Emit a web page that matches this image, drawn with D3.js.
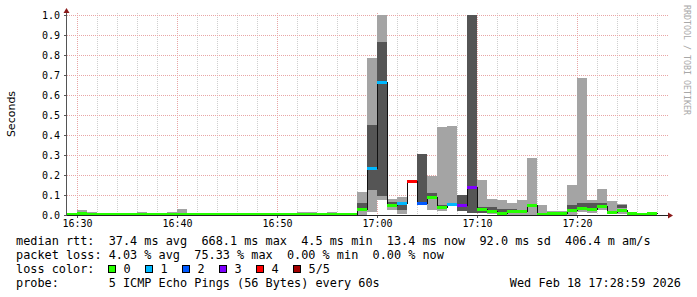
<!doctype html>
<html>
<head>
  <meta charset="utf-8">
  <title>smokeping</title>
  <script src="https://d3js.org/d3.v7.min.js"></script>
  <style>
    body { margin: 0; background: #fff; }
    text { font-family: 'DejaVu Sans Mono', monospace; fill: #000; }
    .tick text { font-size: 10px; }
    .legend { font-size: 11.85px; white-space: pre; }
  </style>
</head>
<body>
<svg id="chart" width="697" height="297"></svg>
<script>
// start minute of each 1-minute step
var minutes = ["16:29","16:30","16:31","16:32","16:33","16:34","16:35","16:36","16:37","16:38",
  "16:39","16:40","16:41","16:42","16:43","16:44","16:45","16:46","16:47","16:48",
  "16:49","16:50","16:51","16:52","16:53","16:54","16:55","16:56","16:57","16:58",
  "16:59","17:00","17:01","17:02","17:03","17:04","17:05","17:06","17:07","17:08",
  "17:09","17:10","17:11","17:12","17:13","17:14","17:15","17:16","17:17","17:18",
  "17:19","17:20","17:21","17:22","17:23","17:24","17:25","17:26","17:27"];

// median rtt (seconds)
var medians = [0.005,0.010,0.007,0.005,0.005,0.005,0.005,0.005,0.005,0.005,
  0.005,0.005,0.005,0.005,0.005,0.005,0.005,0.005,0.005,0.005,
  0.005,0.005,0.005,0.005,0.005,0.005,0.005,0.005,0.005,0.030,
  0.233,0.665,0.050,0.058,0.172,0.058,0.090,0.040,0.055,0.050,
  0.138,0.032,0.018,0.012,0.020,0.018,0.050,0.005,0.012,0.012,
  0.025,0.037,0.030,0.047,0.013,0.025,0.012,0.007,0.012];

// lost pings out of 5
var losses = [0,0,0,0,0,0,0,0,0,0, 0,0,0,0,0,0,0,0,0,0, 0,0,0,0,0,0,0,0,0,0,
  1,1,0,1,4,2,0,0,1,3, 3,0,0,0,0,0,0,0,0,0, 0,0,0,0,0,0,0,0,0];

// outer smoke (fastest / slowest ping)
var pingMin = [0.002,0.000,0.000,0.002,0.002,0.002,0.002,0.000,0.002,0.002,
  0.000,0.000,0.002,0.002,0.002,0.002,0.002,0.002,0.002,0.002,
  0.002,0.002,0.002,0.000,0.000,0.002,0.000,0.002,0.002,0.000,
  0.017,0.075,0.025,0.005,null,null,0.025,0.022,0.045,null,
  null,0.008,0.005,0.005,0.002,0.000,0.000,0.000,0.000,0.000,
  0.000,0.017,0.010,0.025,0.005,0.005,null,null,null];
var pingMax = [0.008,0.025,0.015,0.008,0.008,0.008,0.008,0.015,0.008,0.008,
  0.015,0.030,0.008,0.008,0.008,0.008,0.008,0.008,0.008,0.008,
  0.008,0.008,0.008,0.015,0.015,0.008,0.015,0.008,0.008,0.117,
  0.787,1.050,0.080,0.090,null,null,0.195,0.440,0.445,null,
  null,0.175,0.080,0.075,0.060,0.075,0.285,0.050,0.020,0.020,
  0.150,0.687,0.075,0.130,0.070,0.055,null,null,null];

// inner smoke (2nd / 4th ping)
var ping2 = [null,null,null,null,null,null,null,null,null,null,
  null,null,null,null,null,null,null,null,null,null,
  null,null,null,null,null,null,null,null,null,0.025,
  0.125,0.097,0.040,0.025,null,0.058,0.083,0.030,0.050,0.020,
  0.008,0.008,0.020,0.010,0.015,0.020,0.045,null,null,null,
  0.030,0.042,0.033,0.050,null,0.035,null,null,null];
var ping4 = [null,null,null,null,null,null,null,null,null,null,
  null,null,null,null,null,null,null,null,null,null,
  null,null,null,null,null,null,null,null,null,0.062,
  0.450,0.867,0.067,0.060,null,0.305,0.108,0.050,0.060,0.100,
  1.050,0.042,0.042,0.030,0.030,0.025,0.055,null,null,null,
  0.050,0.060,0.058,0.058,null,0.050,null,null,null];

var yTicks = [0,0.1,0.2,0.3,0.4,0.5,0.6,0.7,0.8,0.9,1.0];
var xTicks = ["16:30","16:40","16:50","17:00","17:10","17:20"];

var lossColors = ["#26ff00","#00b8ff","#0059ff","#7e00ff","#ff0000","#a10000"];
var lossLabels = ["0","1","2","3","4","5/5"];

var statLines = [
  "median rtt:  37.4 ms avg  668.1 ms max  4.5 ms min  13.4 ms now  92.0 ms sd  406.4 m am/s",
  "packet loss: 4.03 % avg  75.33 % max  0.00 % min  0.00 % now"
];
var probeLine = "probe:       5 ICMP Echo Pings (56 Bytes) every 60s";
var stampLine = "Wed Feb 18 17:28:59 2026";

// helpers
function toMin(s) { var p = s.split(":"); return +p[0] * 60 + +p[1]; }

var svg = d3.select("#chart");

var x = d3.scaleLinear().domain([toMin("16:29"), toMin("17:29") + 0.3]).range([67, 670]);
var y = d3.scaleLinear().domain([0, 1]).range([215, 15]).clamp(true);

var bars = minutes.map(function(m, i) {
  return {t: toMin(m), med: medians[i], loss: losses[i],
          lo: pingMin[i], hi: pingMax[i], q2: ping2[i], q4: ping4[i]};
});

// grid
var grid = svg.append("g").attr("shape-rendering", "crispEdges");
var vgrid = [];
for (var m = toMin("16:30"); m <= toMin("17:28"); m += 2) vgrid.push(m);
grid.selectAll("line.v").data(vgrid).enter().append("line")
  .attr("x1", d => Math.round(x(d)) + 0.5).attr("x2", d => Math.round(x(d)) + 0.5)
  .attr("y1", 13).attr("y2", 215)
  .attr("stroke", d => d % 10 == 0 ? "#e8a6a6" : "#cfcfcf")
  .attr("stroke-dasharray", "1,1");
grid.selectAll("line.h").data(yTicks.slice(1)).enter().append("line")
  .attr("x1", 67).attr("x2", 668)
  .attr("y1", d => Math.round(y(d)) + 0.5).attr("y2", d => Math.round(y(d)) + 0.5)
  .attr("stroke", "#e8a6a6")
  .attr("stroke-dasharray", "1,1");

// smoke
var smoke = svg.append("g").attr("shape-rendering", "crispEdges");
smoke.selectAll("rect.outer").data(bars.filter(d => d.hi != null)).enter().append("rect")
  .attr("x", d => x(d.t)).attr("width", d => x(d.t + 1) - x(d.t))
  .attr("y", d => y(d.hi)).attr("height", d => y(d.lo) - y(d.hi))
  .attr("fill", "#a4a4a4");
smoke.selectAll("rect.inner").data(bars.filter(d => d.q4 != null)).enter().append("rect")
  .attr("x", d => x(d.t)).attr("width", d => x(d.t + 1) - x(d.t))
  .attr("y", d => y(d.q4)).attr("height", d => y(d.q2) - y(d.q4))
  .attr("fill", "#555555");

// median step line
var pts = bars.map(d => [d.t, d.med]);
pts.push([bars[bars.length - 1].t + 1, bars[bars.length - 1].med]);
svg.append("path")
  .datum(pts)
  .attr("d", d3.line().x(d => Math.round(x(d[0])) + 0.5).y(d => Math.round(y(d[1])) + 0.5).curve(d3.curveStepAfter))
  .attr("fill", "none").attr("stroke", "#111").attr("stroke-width", 1)
  .attr("shape-rendering", "crispEdges");

// loss-coloured median
svg.append("g").attr("shape-rendering", "crispEdges")
  .selectAll("rect").data(bars).enter().append("rect")
  .attr("x", d => x(d.t)).attr("width", d => x(d.t + 1) - x(d.t))
  .attr("y", d => Math.round(y(d.med)) - 1).attr("height", 3)
  .attr("fill", d => lossColors[d.loss]);

// axes
var yAxis = svg.append("g").attr("transform", "translate(67,0)")
  .call(d3.axisLeft(y).tickValues(yTicks).tickFormat(d3.format(".1f")).tickSize(3).tickPadding(4));
var xAxis = svg.append("g").attr("transform", "translate(0,215)")
  .call(d3.axisBottom(x).tickValues(xTicks.map(toMin))
    .tickFormat(d => Math.floor(d / 60) + ":" + d3.format("02")(d % 60)).tickSize(3).tickPadding(2));
[xAxis, yAxis].forEach(function(a) {
  a.select(".domain").remove();
  a.selectAll(".tick line").attr("stroke", "#555").attr("shape-rendering", "crispEdges");
  a.selectAll(".tick text").attr("fill", "#000").style("font-family", "'DejaVu Sans Mono', monospace").style("font-size", "10px");
});

svg.append("line").attr("x1", 67).attr("x2", 668).attr("y1", 215.5).attr("y2", 215.5)
  .attr("stroke", "#222").attr("shape-rendering", "crispEdges");
svg.append("line").attr("x1", 66.5).attr("x2", 66.5).attr("y1", 216).attr("y2", 12)
  .attr("stroke", "#555").attr("shape-rendering", "crispEdges");
svg.append("path").attr("d", "M668,212.5 L673,215.5 L668,218.5 Z").attr("fill", "#8b1a1a");
svg.append("path").attr("d", "M63.5,13 L66.5,8 L69.5,13 Z").attr("fill", "#8b1a1a");

// y label
svg.append("text")
  .attr("transform", "translate(15,114) rotate(-90)")
  .attr("text-anchor", "middle")
  .style("font-family", "'DejaVu Sans', sans-serif").style("font-size", "11px")
  .text("Seconds");

// watermark
svg.append("text")
  .attr("transform", "translate(684,5) rotate(90)")
  .style("font-size", "8.3px").style("fill", "#a8a8a8")
  .text("RRDTOOL / TOBI OETIKER");

// legend
var legend = svg.append("g");
legend.selectAll("text.stat").data(statLines).enter().append("text")
  .attr("class", "legend").attr("x", 16).attr("y", (d, i) => 244.5 + i * 14.3)
  .text(d => d);
legend.append("text").attr("class", "legend").attr("x", 16).attr("y", 273).text("loss color:");
var lossX = [108.5, 145.5, 182.5, 219.5, 256.5, 293.5];
var items = legend.selectAll("g.loss").data(lossLabels).enter().append("g");
items.append("rect")
  .attr("x", (d, i) => lossX[i]).attr("y", 265.5).attr("width", 7).attr("height", 7)
  .attr("fill", (d, i) => lossColors[i]).attr("stroke", "#000").attr("stroke-width", 1)
  .attr("shape-rendering", "crispEdges");
items.append("text").attr("class", "legend")
  .attr("x", (d, i) => lossX[i] + 15).attr("y", 273).text(d => d);
legend.append("text").attr("class", "legend").attr("x", 16).attr("y", 287.3).text(probeLine);
legend.append("text").attr("class", "legend").attr("x", 681).attr("y", 287.3)
  .attr("text-anchor", "end").text(stampLine);
</script>
</body>
</html>
